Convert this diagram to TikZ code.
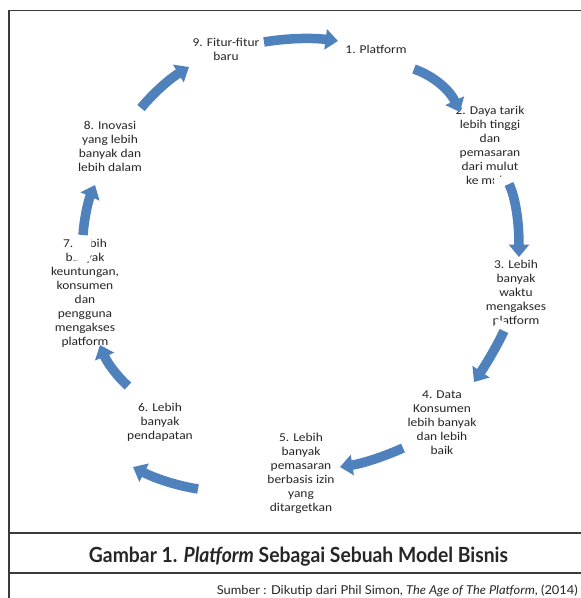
\documentclass[tikz,border=0pt]{standalone}
\usepackage{fontspec}
\setmainfont{Carlito}
\newfontfamily\stepfont[FakeStretch=1.12]{Carlito}
\newfontfamily\capfont{Lato}
\usetikzlibrary{arrows.meta,calc}
\definecolor{flowblue}{HTML}{4F81BD}
\definecolor{inkgray}{HTML}{262626}
\definecolor{rulegray}{HTML}{3A3A3A}
\tikzset{
  stage/.style={align=center, font=\stepfont\fontsize{12}{14}\selectfont,
    text=inkgray, inner sep=0pt},
  cycarrow/.style={draw=flowblue, line width=9.5pt,
    -{Triangle[length=12.5pt,width=20pt]}},
  gapmask/.style={draw=white, line width=#1},
  frameline/.style={draw=rulegray, line width=1.3pt},
}
% quadratic-looking bend from (#1) to (#3) pulled towards (#2)
\newcommand{\cyclearrow}[3]{%
  \draw[cycarrow] (#1) .. controls ($(#1)!2/3!(#2)$) and ($(#3)!2/3!(#2)$) .. (#3);}
\begin{document}
\begin{tikzpicture}[x=1pt,y=-1pt]
\useasboundingbox (0,0) rectangle (581,598);
\fill[white] (0,0) rectangle (581,598);

% frame and caption rules
\draw[frameline] (9,598) -- (9,10.5) -- (581,10.5);
\draw[frameline] (9,533) -- (581,533);
\draw[frameline] (9,573) -- (581,573);

% stages of the cycle
\node[stage] (s1) at (376,49) {1. Platform};
\node[stage] (s2) at (490,145.5) {2. Daya tarik\\lebih tinggi\\dan\\pemasaran\\dari mulut\\ke mulut};
\node[stage] (s3) at (516,293.5) {3. Lebih\\banyak\\waktu\\mengakses\\platform};
\node[stage] (s4) at (442,422.5) {4. Data\\Konsumen\\lebih banyak\\dan lebih\\baik};
\node[stage] (s5) at (301,473) {5. Lebih\\banyak\\pemasaran\\berbasis izin\\yang\\ditargetkan};
\node[stage] (s6) at (160,422.5) {6. Lebih\\banyak\\pendapatan};
\node[stage] (s7) at (85,293) {7. Lebih\\banyak\\keuntungan,\\konsumen\\dan\\pengguna\\mengakses\\platform};
\node[stage] (s8) at (110,146.5) {8. Inovasi\\yang lebih\\banyak dan\\lebih dalam};
\node[stage] (s9) at (226,49) {9. Fitur-fitur\\baru};

% arrow ends and bend handles
\coordinate (a1) at (264,42);  \coordinate (q1) at (300,36);  \coordinate (b1) at (338,41);
\coordinate (a2) at (414,69);  \coordinate (q2) at (445,80);  \coordinate (b2) at (460,112);
\coordinate (a3) at (509,184); \coordinate (q3) at (519,205); \coordinate (b3) at (519,257);
\coordinate (a4) at (504,331); \coordinate (q4) at (493,354); \coordinate (b4) at (474,382);
\coordinate (a5) at (403,448); \coordinate (q5) at (372,462); \coordinate (b5) at (340,467);
\coordinate (a6) at (198,489); \coordinate (q6) at (166,484); \coordinate (b6) at (133,467);
\coordinate (a7) at (128,386); \coordinate (q7) at (110,370); \coordinate (b7) at (100,345);
\coordinate (a8) at (83,235);  \coordinate (q8) at (85,208);  \coordinate (b8) at (95,185);
\coordinate (a9) at (141,108); \coordinate (q9) at (161,84);  \coordinate (b9) at (189,67);

% white backing behind some arrow tails
\draw[gapmask=26pt] (a3) -- ($(a3)!-10pt!(q3)$);
\draw[gapmask=22pt] (a4) -- ($(a4)!-8pt!(q4)$);
\draw[gapmask=18pt] (a8) -- ($(a8)!-26pt!(q8)$);

% the cycle arrows
\cyclearrow{a1}{q1}{b1}
\cyclearrow{a2}{q2}{b2}
\cyclearrow{a3}{q3}{b3}
\cyclearrow{a4}{q4}{b4}
\cyclearrow{a5}{q5}{b5}
\cyclearrow{a6}{q6}{b6}
\cyclearrow{a7}{q7}{b7}
\cyclearrow{a8}{q8}{b8}
\cyclearrow{a9}{q9}{b9}

% caption and source
\node[anchor=base, inner sep=0pt, text=inkgray, font=\capfont\bfseries] (cap) at (298.5,562)
  {\resizebox{419pt}{15.5pt}{Gambar 1. \textit{Platform} Sebagai Sebuah Model Bisnis}};
\node[anchor=base east, inner sep=0pt, text=inkgray, font=\capfont] (src) at (578,594)
  {\resizebox{361pt}{9.5pt}{Sumber : Dikutip dari Phil Simon, \textit{The Age of The Platform}, (2014)}};
\end{tikzpicture}
\end{document}
